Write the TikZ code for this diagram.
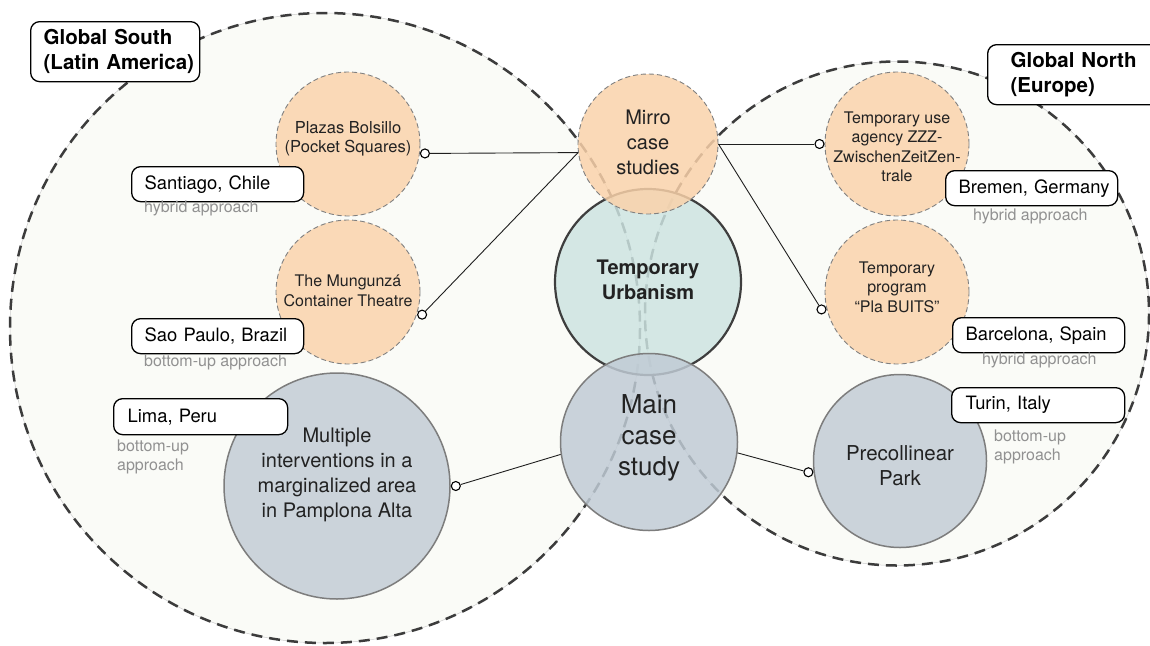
\documentclass[tikz,border=0pt]{standalone}
\usepackage{fontspec}
\setmainfont{TeX Gyre Heros}
\usetikzlibrary{calc}

\definecolor{zonefill}{RGB}{250,251,247}
\definecolor{zoneedge}{RGB}{60,60,60}
\definecolor{zonehair}{RGB}{205,205,205}
\definecolor{peach}{RGB}{250,217,183}
\definecolor{peachhub}{RGB}{250,210,170}
\definecolor{peachedge}{RGB}{128,128,128}
\definecolor{tealhub}{RGB}{205,228,225}
\definecolor{coreedge}{RGB}{62,62,62}
\definecolor{slate}{RGB}{203,211,218}
\definecolor{slatehub}{RGB}{192,203,213}
\definecolor{slateedge}{RGB}{125,125,125}
\definecolor{inkc}{RGB}{34,34,34}
\definecolor{notegrey}{RGB}{145,145,145}

\newcommand\fsz[2]{\fontsize{#1}{#2}\selectfont}

\begin{document}
\begin{tikzpicture}[x=1pt,y=-1pt,
  zone/.style={circle, inner sep=0pt, fill=zonefill, draw=zonehair, line width=0.5pt},
  zonedash/.style={draw=zoneedge, line width=2.5pt, dash pattern=on 11pt off 7pt},
  mirrorcase/.style={circle, inner sep=0pt, fill=peach, draw=peachedge, line width=0.9pt,
    dash pattern=on 5pt off 3pt},
  mirrorhub/.style={mirrorcase, fill=peachhub, fill opacity=0.84, text opacity=1},
  maincase/.style={circle, inner sep=0pt, fill=slate, draw=slateedge, line width=1.5pt},
  mainhub/.style={maincase, fill=slatehub, fill opacity=0.84, text opacity=1},
  core/.style={circle, inner sep=0pt, fill=tealhub, fill opacity=0.84, text opacity=1,
    draw=coreedge, line width=2.2pt},
  dot/.style={circle, inner sep=0pt, minimum size=9pt, draw=black, fill=white, line width=1.1pt},
  link/.style={draw=black!88, line width=0.9pt},
  ctext/.style={align=center, text=inkc, inner sep=0pt},
  place/.style={draw=black, line width=1.3pt, fill=white, rounded corners=9pt,
    anchor=north west, align=left, inner xsep=13pt, inner ysep=0pt,
    minimum height=35pt, font=\fsz{18.4}{22}},
  region/.style={place, minimum height=60pt, font=\bfseries\fsz{20.5}{25}},
  approach/.style={inner sep=0pt, text=notegrey, font=\fsz{16}{19}}
]
\useasboundingbox (0,0) rectangle (1150,645);
\clip (0,0) rectangle (1150,645);
\fill[white] (0,0) rectangle (1150,645);

% the two regions
\node[zone, minimum size=630pt] (south) at (325,328) {};
\node[zone, minimum size=504pt] (north) at (897,313.5) {};
\draw[zonedash] (south.center) circle[radius=315];
\draw[zonedash] (north.center) circle[radius=252];

% mirror case studies
\node[mirrorcase, minimum size=144pt] (plazas) at (348,144) {};
\node[mirrorcase, minimum size=144pt] (mungunza) at (348,292) {};
\node[mirrorcase, minimum size=144pt] (zzz) at (897,144) {};
\node[mirrorcase, minimum size=144pt] (buits) at (897,292) {};

% main case studies
\node[maincase, minimum size=226pt] (pamplona) at (337,486) {};
\node[maincase, minimum size=173pt] (precol) at (900,461) {};

% central hubs
\node[core, minimum size=186pt] (tu) at (648,282) {};
\node[mirrorhub, minimum size=140pt] (mirro) at (648,144) {};
\node[mainhub, minimum size=177pt] (mainc) at (649,442) {};

% connector ends
\node[dot, anchor=173] (dPlazas) at (plazas.-7) {};
\node[dot, anchor=163] (dMung) at (mungunza.-17) {};
\node[dot, anchor=east] (dZzz) at (zzz.west) {};
\node[dot, anchor=13] (dBuits) at (buits.193) {};
\node[dot, anchor=west] (dPamp) at (pamplona.east) {};
\node[dot, anchor=7] (dPrec) at (precol.187) {};

\draw[link] (mirro.187) -- (dPlazas);
\draw[link] (mirro.187) -- (dMung);
\draw[link] (mirro.east) -- (dZzz);
\draw[link] (mirro.east) -- (dBuits);
\draw[link] (mainc.188) -- (dPamp);
\draw[link] (mainc.-7) -- (dPrec);

% circle texts
\node[ctext, font=\fsz{16.5}{19}] (tPlazas) at (348,139) {Plazas Bolsillo\\(Pocket Squares)};
\node[ctext, font=\fsz{16}{20}] (tMung) at (348,291) {The Mungunzá\\Container Theatre};
\node[ctext, font=\fsz{16}{19.5}] (tZzz) at (897,147) {Temporary use\\agency ZZZ-\\ZwischenZeitZen-\\trale};
\node[ctext, font=\fsz{16}{19.5}] (tBuits) at (897,287) {Temporary\\program\\“Pla BUITS”};
\node[ctext, font=\fsz{20}{25}] (tMirro) at (648,142) {Mirro\\case\\studies};
\node[ctext, font=\bfseries\fsz{20}{25}] (tTu) at (648,280) {Temporary\\Urbanism};
\node[ctext, font=\fsz{26}{31}] (tMain) at (649,438) {Main\\case\\study};
\node[ctext, font=\fsz{20}{25}] (tPamp) at (337,475) {Multiple\\interventions in a\\marginalized area\\in Pamplona Alta};
\node[ctext, font=\fsz{20.5}{25}] (tPrec) at (900,466) {Precollinear\\Park};

% region labels
\node[region, text width=143pt] (gSouth) at (30,21) {\mbox{Global South}\\\mbox{(Latin America)}};
\node[region, inner xsep=23pt, text width=200pt, minimum width=246pt] (gNorth) at (987,44) {\mbox{Global North}\\\mbox{(Europe)}};

% place labels
\node[place, text width=146pt] (santiago) at (131,166) {\mbox{Santiago, Chile}};
\node[place, text width=146pt] (saopaulo) at (131,318) {\mbox{Sao Paulo, Brazil}};
\node[place, inner xsep=14pt, text width=146pt, minimum height=36pt] (lima) at (113,398) {\mbox{Lima, Peru}};
\node[place, text width=146pt] (bremen) at (945,170) {\mbox{Bremen, Germany}};
\node[place, text width=146pt] (barcelona) at (952,317) {\mbox{Barcelona, Spain}};
\node[place, inner xsep=14pt, text width=145pt] (turin) at (951,387) {\mbox{Turin, Italy}};

% approach notes
\node[approach, anchor=base west] (aSantiago) at (144,212) {hybrid approach};
\node[approach, anchor=base west] (aSao) at (144,366) {bottom-up approach};
\node[approach, anchor=west, align=left] (aLima) at (117,456.5) {bottom-up\\approach};
\node[approach, anchor=base west] (aBremen) at (973,220) {hybrid approach};
\node[approach, anchor=base west] (aBarca) at (982,364) {hybrid approach};
\node[approach, anchor=west, align=left] (aTurin) at (994,446.5) {bottom-up\\approach};
\end{tikzpicture}
\end{document}
